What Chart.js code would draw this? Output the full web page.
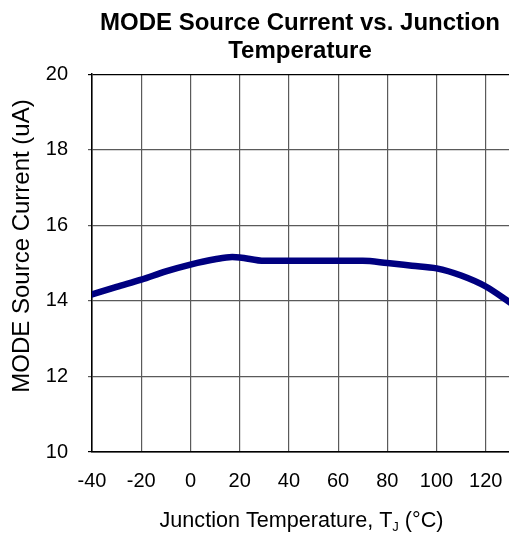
<!DOCTYPE html>
<html>
<head>
<meta charset="utf-8">
<script src="https://cdn.jsdelivr.net/npm/chart.js@4"></script>
<style>
  html, body { margin: 0; padding: 0; background: #fff; overflow: hidden; }
  #wrap { width: 600px; height: 535px; }
</style>
</head>
<body>
<div id="wrap"><canvas id="myChart" width="600" height="535"></canvas></div>
<script>
// Dados: temperatura de junção (°C) e corrente (uA)
const temperatures = [-40, -30, -20, -10, 0, 10, 17, 20, 30, 40, 50, 60, 70, 80, 90, 100, 110, 120, 130];
const currents = [14.17, 14.37, 14.56, 14.78, 14.96, 15.1, 15.16, 15.15, 15.06, 15.06, 15.06, 15.06, 15.06, 15.0, 14.93, 14.86, 14.67, 14.38, 13.95];

// Escalas e textos
const xTicks = [-40, -20, 0, 20, 40, 60, 80, 100, 120, 140];
const yTicks = [10, 12, 14, 16, 18, 20];
const titleLines = ['MODE Source Current vs. Junction', 'Temperature'];
const yTitle = 'MODE Source Current (uA)';
const xTitle = ['Junction Temperature, T', 'J', ' (°C)'];

const FONT = "'Liberation Sans', Arial, Helvetica, sans-serif";

// Pares {x, y} para o gráfico
const points = temperatures.map((t, i) => ({ x: t, y: currents[i] }));

// Plugin para desenhar os títulos dos eixos (com subscrito no T_J)
const axisTitles = {
  id: 'axisTitles',
  afterDraw(chart) {
    const c = chart.ctx;
    c.save();
    c.fillStyle = '#000';

    // título do eixo y, rotacionado
    c.font = '24px ' + FONT;
    c.textAlign = 'center';
    c.textBaseline = 'middle';
    c.translate(22, 246);
    c.rotate(-Math.PI / 2);
    c.fillText(yTitle, 0, 0);
    c.setTransform(1, 0, 0, 1, 0, 0);

    // título do eixo x, com "J" subscrito
    const big = '21.6px ' + FONT, small = '13px ' + FONT;
    c.textAlign = 'left';
    c.textBaseline = 'alphabetic';
    c.font = big; const w1 = c.measureText(xTitle[0]).width;
    c.font = small; const w2 = c.measureText(xTitle[1]).width;
    c.font = big; const w3 = c.measureText(xTitle[2]).width;
    let x = 301.5 - (w1 + w2 + w3) / 2;
    const base = 527;
    c.font = big; c.fillText(xTitle[0], x, base); x += w1;
    c.font = small; c.fillText(xTitle[1], x, base + 4); x += w2;
    c.font = big; c.fillText(xTitle[2], x, base);
    c.restore();
  }
};

const data = {
  datasets: [{
    label: 'MODE Source Current',
    data: points,
    borderColor: '#000080',
    backgroundColor: '#000080',
    borderWidth: 6.5,
    pointRadius: 0,
    showLine: true,
    cubicInterpolationMode: 'monotone',
    borderCapStyle: 'round'
  }]
};

const config = {
  type: 'scatter',
  data: data,
  options: {
    responsive: false,
    animation: false,
    devicePixelRatio: 1,
    layout: { padding: 0 },
    plugins: {
      legend: { display: false },
      tooltip: { enabled: false },
      title: {
        display: true,
        text: titleLines,
        color: '#000',
        font: { family: FONT, size: 24, weight: 'bold', lineHeight: 1.15 },
        padding: { top: 10, bottom: 9 }
      }
    },
    scales: {
      x: {
        type: 'linear',
        min: -40,
        max: 140,
        afterFit(s) { s.height = 83; },
        afterBuildTicks(s) { s.ticks = xTicks.map(v => ({ value: v })); },
        border: { color: '#000', width: 1.5 },
        grid: {
          color: ctx => ctx.tick && ctx.tick.value === -40 ? '#000' : '#5a5a5a',
          lineWidth: 1.2,
          drawTicks: false
        },
        ticks: {
          color: '#000',
          padding: 17,
          maxRotation: 0,
          font: { family: FONT, size: 20 }
        }
      },
      y: {
        min: 10,
        max: 20,
        afterFit(s) { s.width = 92; },
        afterBuildTicks(s) { s.ticks = yTicks.map(v => ({ value: v })); },
        border: { color: '#000', width: 1.5 },
        grid: {
          color: ctx => ctx.tick && (ctx.tick.value === 20 || ctx.tick.value === 10) ? '#000' : '#5a5a5a',
          lineWidth: 1.2,
          tickLength: 4
        },
        ticks: {
          color: '#000',
          padding: 20,
          font: { family: FONT, size: 20 }
        }
      },
      // eixo vazio à direita, só para reservar espaço (o gráfico original continua além da janela)
      yRight: {
        position: 'right',
        min: 10,
        max: 20,
        afterFit(s) { s.width = 65; },
        grid: { display: false, drawTicks: false },
        border: { display: false },
        ticks: { display: false }
      }
    }
  },
  plugins: [axisTitles]
};

new Chart(document.getElementById('myChart'), config);
</script>
</body>
</html>
